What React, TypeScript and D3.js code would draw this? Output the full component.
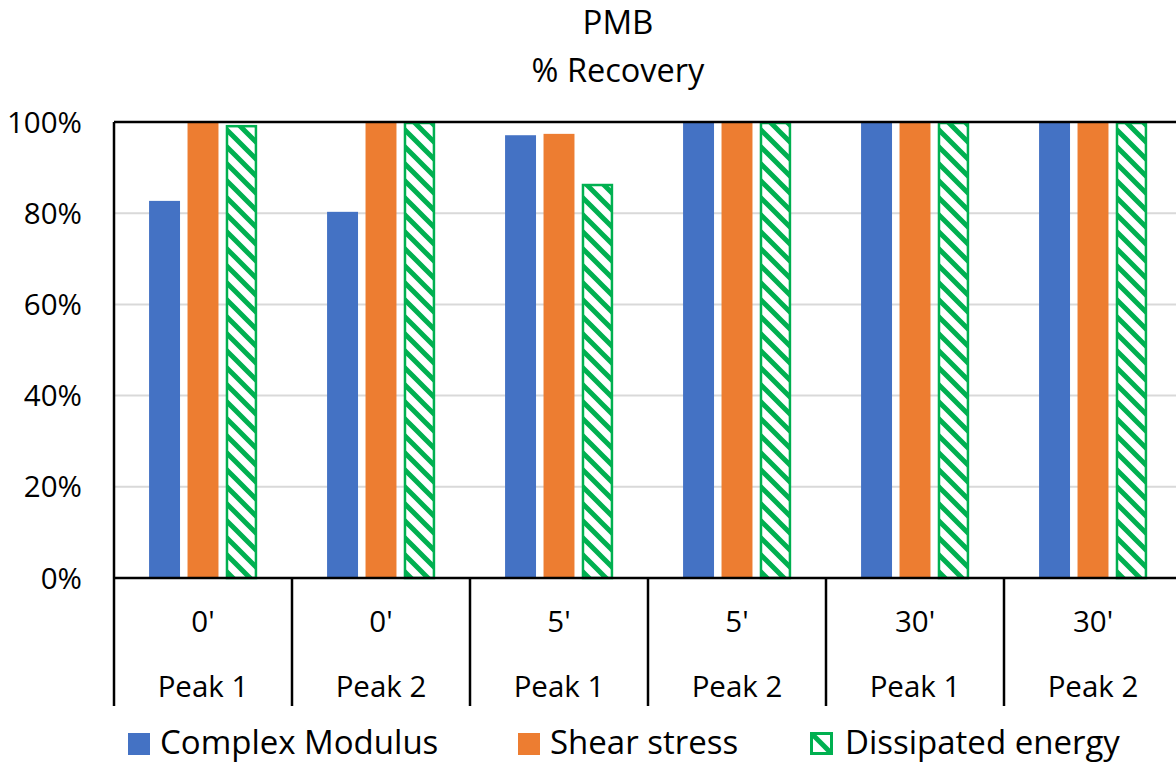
import React from "react";
import * as d3 from "d3";

const categories = ["0'|Peak 1", "0'|Peak 2", "5'|Peak 1", "5'|Peak 2", "30'|Peak 1", "30'|Peak 2"];
const seriesNames = ["Complex Modulus", "Shear stress", "Dissipated energy"];
const complexModulus = [82.7, 80.3, 97.1, 100, 100, 100];
const shearStress = [100, 100, 97.4, 100, 100, 100];
const dissipatedEnergy = [99.3, 100, 86.4, 100, 100, 100];
const yTicks = [0, 20, 40, 60, 80, 100];
const titleLines = ["PMB", "% Recovery"];

const W = 1176;
const H = 764;
const FONT = "'Open Sans', 'Noto Sans', sans-serif";
const BLUE = "#4472C4";
const ORANGE = "#ED7D31";
const GREEN = "#00B050";

export default function App() {
  const left = 114, top = 122, right = 1182, bottom = 578;
  const x0 = d3.scaleBand<string>().domain(categories).range([left, right]);
  const bw = x0.bandwidth();
  const x1 = d3.scaleBand<string>().domain(seriesNames).range([bw * 0.197, bw * 0.803]).paddingInner(0.195);
  const y = d3.scaleLinear().domain([0, 100]).range([bottom, top]);
  const data = [complexModulus, shearStress, dissipatedEnergy];

  const legendItems = [
    { name: seriesNames[0], sx: 128, tx: 160 },
    { name: seriesNames[1], sx: 518, tx: 550 },
    { name: seriesNames[2], sx: 810, tx: 845 },
  ];

  return (
    <svg width={W} height={H} style={{ position: "absolute", left: 0, top: 0, background: "#fff" }} fontFamily={FONT}>
      <defs>
        <pattern id="hatch" patternUnits="userSpaceOnUse" width={17} height={17}>
          <rect width={17} height={17} fill="#fff" />
          <path d="M-4,-4 L21,21 M-4,13 L4,21 M13,-4 L21,4" stroke={GREEN} strokeWidth={5} />
        </pattern>
        <clipPath id="legHatch">
          <rect x={810} y={732} width={23} height={23} />
        </clipPath>
      </defs>
      <rect width={W} height={H} fill="#fff" />
      {/* title */}
      <text x={618} y={34} textAnchor="middle" fontSize={33} fill="#000">{titleLines[0]}</text>
      <text x={618} y={82} textAnchor="middle" fontSize={32.5} fill="#000">{titleLines[1]}</text>

      {/* gridlines */}
      {yTicks.filter(t => t > 0 && t < 100).map(t => (
        <line key={t} x1={left} x2={right} y1={y(t)} y2={y(t)} stroke="#d9d9d9" strokeWidth={2} />
      ))}
      {/* y tick labels */}
      {yTicks.map(t => (
        <text key={t} x={82} y={y(t) + 10.5} textAnchor="end" fontSize={29.5} fill="#000">{t}%</text>
      ))}

      {/* bars */}
      {categories.map((c, i) => (
        <g key={c} transform={`translate(${x0(c)},0)`}>
          {seriesNames.map((s, j) => {
            const v = data[j][i];
            const bx = x1(s)!;
            const by = y(v);
            const bh = y(0) - by;
            if (j < 2) {
              return <rect key={s} x={bx} y={by} width={x1.bandwidth()} height={bh} fill={j === 0 ? BLUE : ORANGE} />;
            }
            return (
              <rect key={s} x={bx + 1} y={by + 1} width={x1.bandwidth() - 2} height={bh - 1}
                fill="url(#hatch)" stroke={GREEN} strokeWidth={2.5} />
            );
          })}
        </g>
      ))}

      {/* plot frame */}
      <line x1={left} x2={right} y1={top} y2={top} stroke="#000" strokeWidth={2.5} />
      <line x1={left} x2={left} y1={top} y2={bottom} stroke="#000" strokeWidth={2.5} />
      <line x1={left} x2={right} y1={bottom} y2={bottom} stroke="#000" strokeWidth={2.5} />

      {/* category axis */}
      {categories.map(c => (
        <line key={"d" + c} x1={x0(c)!} x2={x0(c)!} y1={bottom} y2={706} stroke="#000" strokeWidth={2.5} />
      ))}
      <line x1={right} x2={right} y1={bottom} y2={706} stroke="#000" strokeWidth={2.5} />
      {categories.map(c => {
        const [a, b] = c.split("|");
        const cx = x0(c)! + bw / 2;
        return (
          <g key={"l" + c}>
            <text x={cx} y={632} textAnchor="middle" fontSize={29.5} fill="#000">{a}</text>
            <text x={cx} y={697} textAnchor="middle" fontSize={29.5} fill="#000">{b}</text>
          </g>
        );
      })}

      {/* legend */}
      {legendItems.map((it, j) => (
        <g key={it.name}>
          {j < 2 ? (
            <rect x={it.sx} y={733} width={22} height={22} fill={j === 0 ? BLUE : ORANGE} />
          ) : (
            <g>
              <rect x={it.sx} y={732} width={23} height={23} fill={GREEN} />
              <g clipPath="url(#legHatch)">
                <rect x={it.sx + 3} y={735} width={17} height={17} fill="#fff" />
                <line x1={it.sx - 2} y1={730} x2={it.sx + 25} y2={757} stroke={GREEN} strokeWidth={5} />
              </g>
            </g>
          )}
          <text x={it.tx} y={754} fontSize={33} fill="#000">{it.name}</text>
        </g>
      ))}
    </svg>
  );
}
